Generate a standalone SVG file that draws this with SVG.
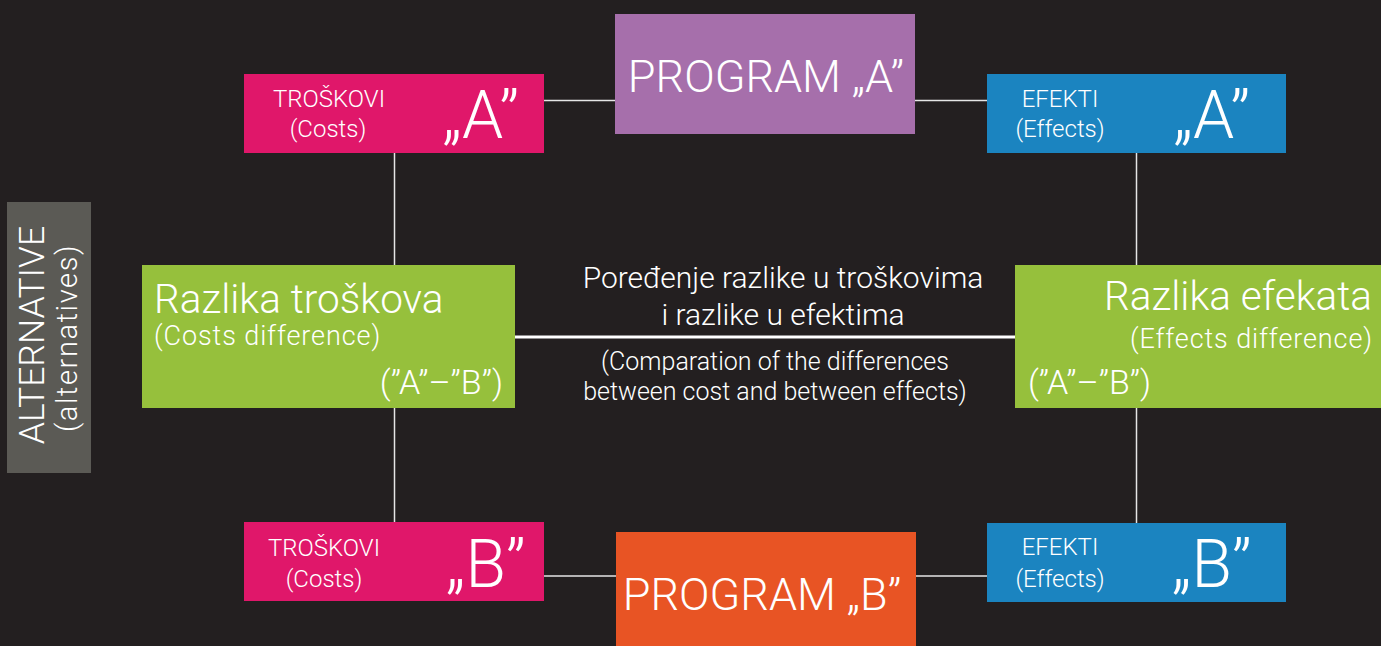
<svg xmlns="http://www.w3.org/2000/svg" width="1381" height="646" viewBox="0 0 1381 646">
<style>
text{font-family:Roboto,"Liberation Sans",sans-serif;font-weight:300;fill:#ffffff}
.ln{stroke:#e6e6e6;stroke-width:1.5;fill:none}
.small{font-size:24px}
.big{font-size:66px}
.prog{font-size:45px}
.razl{font-size:40.5px}
.sub{font-size:27px;letter-spacing:0.9px}
.ab{font-size:34px}
.c1{font-size:30px}
.c2{font-size:25px}
</style>
<rect x="0" y="0" width="1381" height="646" fill="#231f20"/>
<g id="connectors">
<line class="ln" x1="544" y1="100.5" x2="615" y2="100.5"/>
<line class="ln" x1="915" y1="100.5" x2="987" y2="100.5"/>
<line class="ln" x1="544" y1="576" x2="616" y2="576"/>
<line class="ln" x1="916" y1="576" x2="987" y2="576"/>
<line class="ln" x1="394.5" y1="153" x2="394.5" y2="265"/>
<line class="ln" x1="394.5" y1="408" x2="394.5" y2="522"/>
<line class="ln" x1="1136.5" y1="153" x2="1136.5" y2="265"/>
<line class="ln" x1="1136.5" y1="408" x2="1136.5" y2="523"/>
<line x1="515" y1="337" x2="1015" y2="337" stroke="#ffffff" stroke-width="3"/>
</g>
<g id="alternative">
<rect x="7" y="202" width="84" height="271" fill="#5b5a55"/>
<text transform="translate(44,335) rotate(-90)" text-anchor="middle" style="font-size:35.5px">ALTERNATIVE</text>
<text transform="translate(77,338) rotate(-90)" text-anchor="middle" style="font-size:29px;letter-spacing:1.6px">(alternatives)</text>
</g>
<g id="program-a">
<rect x="615" y="14" width="300" height="120" fill="#a66fab"/>
<text class="prog" x="766" y="92" text-anchor="middle">PROGRAM „A”</text>
</g>
<g id="troskovi-a">
<rect x="244" y="74" width="300" height="79" fill="#e0176a"/>
<text class="small" x="329" y="107" text-anchor="middle">TROŠKOVI</text>
<text class="small" x="328" y="137" text-anchor="middle">(Costs)</text>
<text class="big" x="481" y="138" text-anchor="middle">„A”</text>
</g>
<g id="efekti-a">
<rect x="987" y="74" width="299" height="79" fill="#1b84c0"/>
<text class="small" x="1060" y="107" text-anchor="middle">EFEKTI</text>
<text class="small" x="1060" y="137" text-anchor="middle">(Effects)</text>
<text class="big" x="1212" y="138" text-anchor="middle">„A”</text>
</g>
<g id="razlika-troskova">
<rect x="142" y="265" width="373" height="143" fill="#96c03c"/>
<text class="razl" x="154" y="313">Razlika troškova</text>
<text class="sub" x="154" y="345">(Costs difference)</text>
<text class="ab" x="503" y="394" text-anchor="end">(”A”–”B”)</text>
</g>
<g id="razlika-efekata">
<rect x="1015" y="265" width="366" height="143" fill="#96c03c"/>
<text class="razl" x="1372" y="310" text-anchor="end">Razlika efekata</text>
<text class="sub" x="1373" y="348" text-anchor="end">(Effects difference)</text>
<text class="ab" x="1028" y="394">(”A”–”B”)</text>
</g>
<g id="poredjenje">
<text class="c1" x="783" y="288" text-anchor="middle">Poređenje razlike u troškovima</text>
<text class="c1" x="783" y="325" text-anchor="middle">i razlike u efektima</text>
<text class="c2" x="775" y="370" text-anchor="middle">(Comparation of the differences</text>
<text class="c2" x="775" y="400" text-anchor="middle">between cost and between effects)</text>
</g>
<g id="troskovi-b">
<rect x="244" y="522" width="300" height="79" fill="#e0176a"/>
<text class="small" x="324" y="556" text-anchor="middle">TROŠKOVI</text>
<text class="small" x="324" y="587" text-anchor="middle">(Costs)</text>
<text class="big" x="486" y="587" text-anchor="middle">„B”</text>
</g>
<g id="program-b">
<rect x="616" y="532" width="300" height="114" fill="#e85424"/>
<text class="prog" x="762" y="610" text-anchor="middle">PROGRAM „B”</text>
</g>
<g id="efekti-b">
<rect x="987" y="523" width="299" height="79" fill="#1b84c0"/>
<text class="small" x="1060" y="555" text-anchor="middle">EFEKTI</text>
<text class="small" x="1060" y="587" text-anchor="middle">(Effects)</text>
<text class="big" x="1212" y="587" text-anchor="middle">„B”</text>
</g>
</svg>
